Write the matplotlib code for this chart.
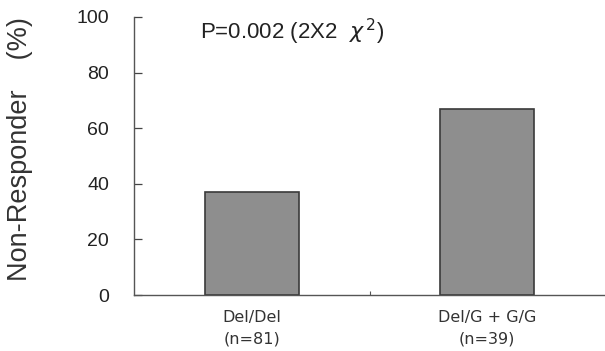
import matplotlib
matplotlib.use("Agg")
import matplotlib.pyplot as plt

# data
groups = ["Del/Del\n(n=81)", "Del/G + G/G\n(n=39)"]
non_responder = [37, 67]
y_ticks = [0, 20, 40, 60, 80, 100]

plt.rcParams['font.family'] = ['Liberation Sans', 'DejaVu Sans']

fig = plt.figure(figsize=(6.05, 3.51), dpi=100)
ax = fig.add_axes([0.2215, 0.1595, 0.7785, 0.7921])

pos = [0.5, 1.5]
ax.bar(pos, non_responder, width=0.4, color='#8e8e8e', edgecolor='#3a3a3a', linewidth=1.2)

ax.set_xlim(0, 2)
ax.set_ylim(0, 100)
ax.set_yticks(y_ticks)
ax.set_yticklabels([str(t) for t in y_ticks], fontsize=14, color='#222222')
ax.tick_params(axis='y', direction='in', length=6, width=0.9, color='#444444', pad=18)

ax.set_xticks(pos)
ax.set_xticklabels(groups, fontsize=11.5, color='#333333', linespacing=1.5,
                   family=['DejaVu Sans'])
ax.tick_params(axis='x', length=0, pad=11)
ax.set_xticks([1.0], minor=True)
ax.tick_params(axis='x', which='minor', direction='in', length=3, width=0.8, color='#555555')

for s in ['top', 'right']:
    ax.spines[s].set_visible(False)
for s in ['left', 'bottom']:
    ax.spines[s].set_color('#555555')
    ax.spines[s].set_linewidth(1.0)

fig.text(0.033, 0.575, "Non-Responder    (%)", rotation=90, va='center', ha='center',
         fontsize=19.5, color='#333333')

ax.text(0.14, 0.945, "P=0.002 (2X2  $\\chi^{\\,2}$)", transform=ax.transAxes,
        fontsize=16, color='#222222', va='center', ha='left')

fig.savefig("out.png", dpi=100)
